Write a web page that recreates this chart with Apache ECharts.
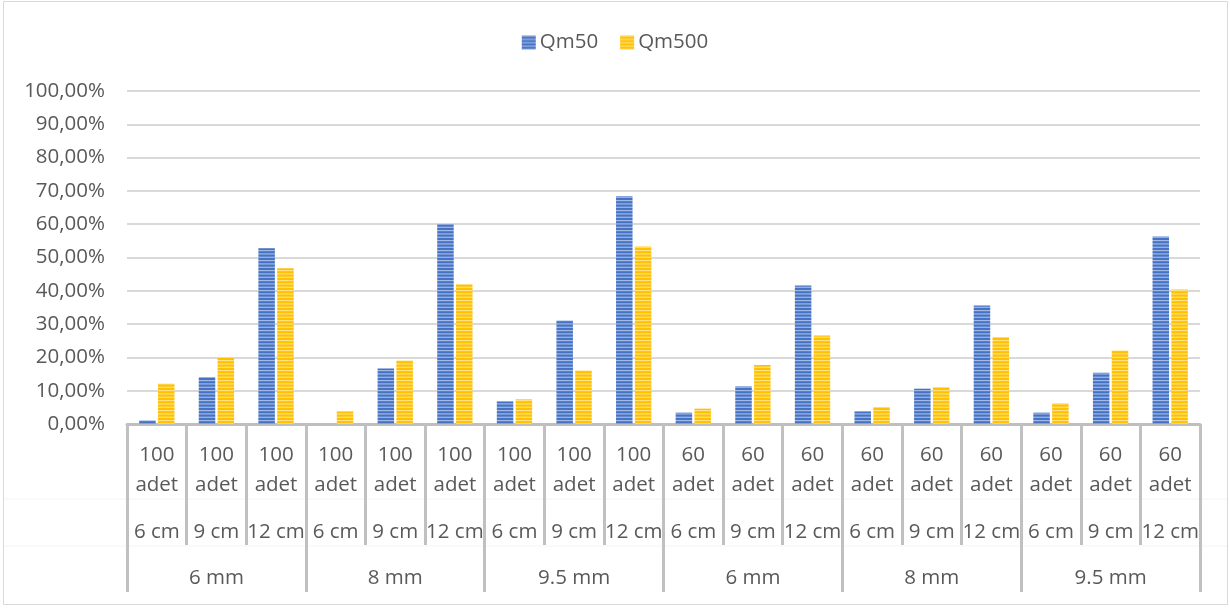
<!DOCTYPE html>
<html>
<head>
<meta charset="utf-8">
<script src="https://cdn.jsdelivr.net/npm/echarts@6/dist/echarts.min.js"></script>
<style>
html,body{margin:0;padding:0;background:#fff;}
#chart{width:1230px;height:610px;}
</style>
</head>
<body>
<div id="chart"></div>
<script>
// ---- data ----
const countLabels = ['100\nadet','100\nadet','100\nadet','100\nadet','100\nadet','100\nadet','100\nadet','100\nadet','100\nadet',
                     '60\nadet','60\nadet','60\nadet','60\nadet','60\nadet','60\nadet','60\nadet','60\nadet','60\nadet'];
const lengthLabels = ['6 cm','9 cm','12 cm','6 cm','9 cm','12 cm','6 cm','9 cm','12 cm',
                      '6 cm','9 cm','12 cm','6 cm','9 cm','12 cm','6 cm','9 cm','12 cm'];
const diameterLabels = ['6 mm','8 mm','9.5 mm','6 mm','8 mm','9.5 mm'];
const seriesNames = ['Qm50','Qm500'];
const qm50  = [1.1, 14.1, 52.8, 0, 16.7, 60.0, 6.8, 31.1, 68.4, 3.4, 11.3, 41.6, 3.8, 10.6, 35.6, 3.4, 15.4, 56.3];
const qm500 = [12.1, 20.1, 46.8, 3.8, 19.1, 42.0, 7.4, 16.1, 53.3, 4.6, 17.7, 26.6, 5.1, 11.1, 26.1, 6.2, 22.1, 40.4];
const yTicks = {min: 0, max: 100, interval: 10};

function stripe(dark, light) {
  const c = document.createElement('canvas');
  c.width = 4; c.height = 10;
  const ctx = c.getContext('2d');
  ctx.fillStyle = dark;
  ctx.fillRect(0, 0, 4, 10);
  ctx.fillStyle = light;
  ctx.fillRect(0, 0, 4, 1.2);
  ctx.fillRect(0, 3.33, 4, 1.2);
  ctx.fillRect(0, 6.67, 4, 1.2);
  return {image: c, repeat: 'repeat'};
}

const font = '"Open Sans", "Liberation Sans", sans-serif';
const txt = '#595959';
const fs = 20.5;
const chart = echarts.init(document.getElementById('chart'), null, {renderer: 'canvas'});
chart.setOption({
  animation: false,
  backgroundColor: '#fff',
  textStyle: {fontFamily: font},
  graphic: [
    {type: 'rect', shape: {x: 3.5, y: 1.5, width: 1224, height: 603}, style: {fill: 'none', stroke: '#d9d9d9', lineWidth: 1}, z: -10},
    {type: 'line', shape: {x1: 4, y1: 499, x2: 1227, y2: 499}, style: {stroke: '#f4f4f4', lineWidth: 1}, z: -5},
    {type: 'line', shape: {x1: 4, y1: 546, x2: 1227, y2: 546}, style: {stroke: '#f4f4f4', lineWidth: 1}, z: -5}
  ],
  legend: {
    top: 27, left: 'center',
    itemWidth: 14, itemHeight: 14, itemGap: 22,
    icon: 'rect',
    textStyle: {color: txt, fontSize: fs, fontFamily: font, padding: [0, 0, 0, -1]},
    data: seriesNames
  },
  grid: {left: 127, right: 30, top: 91, bottom: 186, containLabel: false},
  xAxis: [
    {
      type: 'category', data: countLabels, position: 'bottom',
      axisLine: {show: true, lineStyle: {color: '#bfbfbf', width: 3}},
      axisTick: {show: true, interval: 0, length: 121, lineStyle: {color: '#c0c0c0', width: 3}},
      axisLabel: {interval: 0, margin: 16, color: txt, fontSize: fs, lineHeight: 30, fontFamily: font, hideOverlap: false}
    },
    {
      type: 'category', data: lengthLabels, position: 'bottom', offset: 85,
      axisLine: {show: false}, axisTick: {show: false},
      axisLabel: {interval: 0, margin: 8, color: txt, fontSize: fs, lineHeight: 30, fontFamily: font, hideOverlap: false}
    },
    {
      type: 'category', data: diameterLabels, position: 'bottom', offset: 0,
      axisLine: {show: false},
      axisTick: {show: true, interval: 0, length: 168, lineStyle: {color: '#c0c0c0', width: 3}},
      axisLabel: {interval: 0, margin: 139, color: txt, fontSize: fs, lineHeight: 30, fontFamily: font, hideOverlap: false}
    }
  ],
  yAxis: {
    type: 'value', min: yTicks.min, max: yTicks.max, interval: yTicks.interval,
    axisLine: {show: false}, axisTick: {show: false},
    splitLine: {lineStyle: {color: '#d9d9d9', width: 2}},
    axisLabel: {margin: 22, color: txt, fontSize: fs, fontFamily: font,
      formatter: v => v.toFixed(2).replace('.', ',') + '%'}
  },
  series: [
    {name: seriesNames[0], type: 'bar', xAxisIndex: 0, data: qm50, barWidth: 16.5, barGap: '14%',
     itemStyle: {color: stripe('#4472c4', '#a3b8e2')}},
    {name: seriesNames[1], type: 'bar', xAxisIndex: 0, data: qm500, barWidth: 16.5, barGap: '14%',
     itemStyle: {color: stripe('#ffc000', '#ffe083')}}
  ]
});
</script>
</body>
</html>
